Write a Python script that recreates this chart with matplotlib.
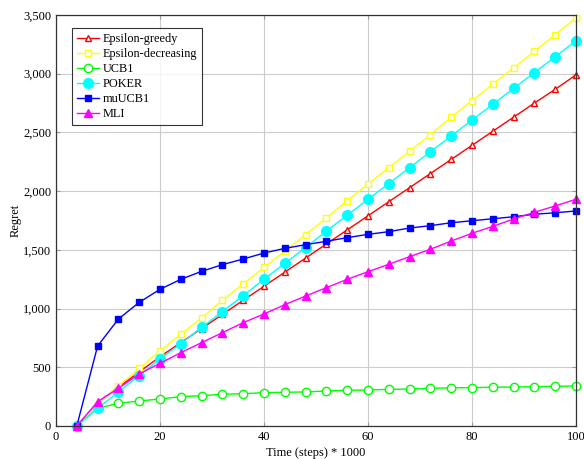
import matplotlib
matplotlib.use("Agg")
import matplotlib.pyplot as plt
from matplotlib.ticker import FuncFormatter

plt.rcParams["font.family"] = ["Liberation Serif", "DejaVu Serif"]

steps = [4, 8, 12, 16, 20, 24, 28, 32, 36, 40, 44, 48, 52,
         56, 60, 64, 68, 72, 76, 80, 84, 88, 92, 96, 100]

eps_greedy = [0, 200, 330, 460, 590, 710, 830, 950, 1070, 1190, 1310, 1430, 1550,
              1670, 1790, 1910, 2030, 2150, 2270, 2390, 2510, 2630, 2750, 2867, 2990]
eps_decreasing = [0, 190, 340, 490, 640, 780, 920, 1070, 1210, 1350, 1490, 1630, 1770,
                  1920, 2060, 2200, 2340, 2480, 2630, 2770, 2910, 3050, 3190, 3333, 3475]
ucb1 = [0, 151, 193, 213, 230, 250, 258, 270, 275, 284, 287, 290, 298,
        304, 307, 312, 315, 321, 325, 327, 330, 332, 335, 338, 341]
poker = [0, 150, 290, 430, 570, 700, 840, 975, 1110, 1250, 1385, 1520, 1660,
         1795, 1930, 2065, 2200, 2335, 2470, 2605, 2740, 2875, 3010, 3145, 3280]
mu_ucb1 = [0, 681, 911, 1053, 1164, 1249, 1317, 1374, 1422, 1473, 1513, 1544, 1573,
           1604, 1632, 1655, 1686, 1706, 1731, 1748, 1765, 1782, 1803, 1816, 1831]
mli = [0, 207, 321, 443, 534, 624, 710, 795, 880, 954, 1033, 1107, 1178,
       1249, 1314, 1377, 1442, 1505, 1575, 1641, 1700, 1763, 1820, 1874, 1931]

fig = plt.figure(figsize=(5.84, 4.59), dpi=100)
ax = fig.add_axes([0.0959, 0.0719, 0.8904, 0.8954])

common = dict(linewidth=1.0, clip_on=False)
ax.plot(steps, eps_greedy, color="red", marker="^", markersize=4.5,
        markerfacecolor="white", markeredgewidth=1.0, label="Epsilon-greedy", **common)
ax.plot(steps, eps_decreasing, color="#ffff00", marker="s", markersize=5,
        markerfacecolor="white", markeredgewidth=1.0, label="Epsilon-decreasing", **common)
ax.plot(steps, ucb1, color="#00ff00", marker="o", markersize=6,
        markerfacecolor="white", markeredgewidth=1.0, label="UCB1", **common)
ax.plot(steps, poker, color="cyan", marker="o", markersize=7,
        label="POKER", **common)
ax.plot(steps, mu_ucb1, color="blue", marker="s", markersize=5,
        label="muUCB1", **common)
ax.plot(steps, mli, color="magenta", marker="^", markersize=5.5,
        label="MLI", **common)

ax.set_xlim(0, 100)
ax.set_ylim(0, 3500)
ax.set_xticks([0, 20, 40, 60, 80, 100])
ax.set_yticks(range(0, 3501, 500))
ax.yaxis.set_major_formatter(FuncFormatter(lambda v, _: f"{int(v):,}"))
ax.grid(True, color="#cccccc", linewidth=0.8)
ax.set_axisbelow(True)
ax.tick_params(direction="in", length=3, labelsize=9, top=True, right=True,
               color="#999999")
for s in ax.spines.values():
    s.set_linewidth(0.9)
    s.set_color("#333333")

ax.set_xlabel("Time (steps) * 1000", fontsize=9, labelpad=3)
ax.set_ylabel("Regret", fontsize=9, labelpad=1)

leg = ax.legend(loc="upper left", bbox_to_anchor=(0.031, 0.968), borderaxespad=0,
                fontsize=8.8, frameon=True, fancybox=False, edgecolor="black",
                handlelength=1.8, handletextpad=0.3, borderpad=0.4,
                labelspacing=0.25)
leg.get_frame().set_linewidth(0.8)

fig.savefig("out.png", dpi=100)
